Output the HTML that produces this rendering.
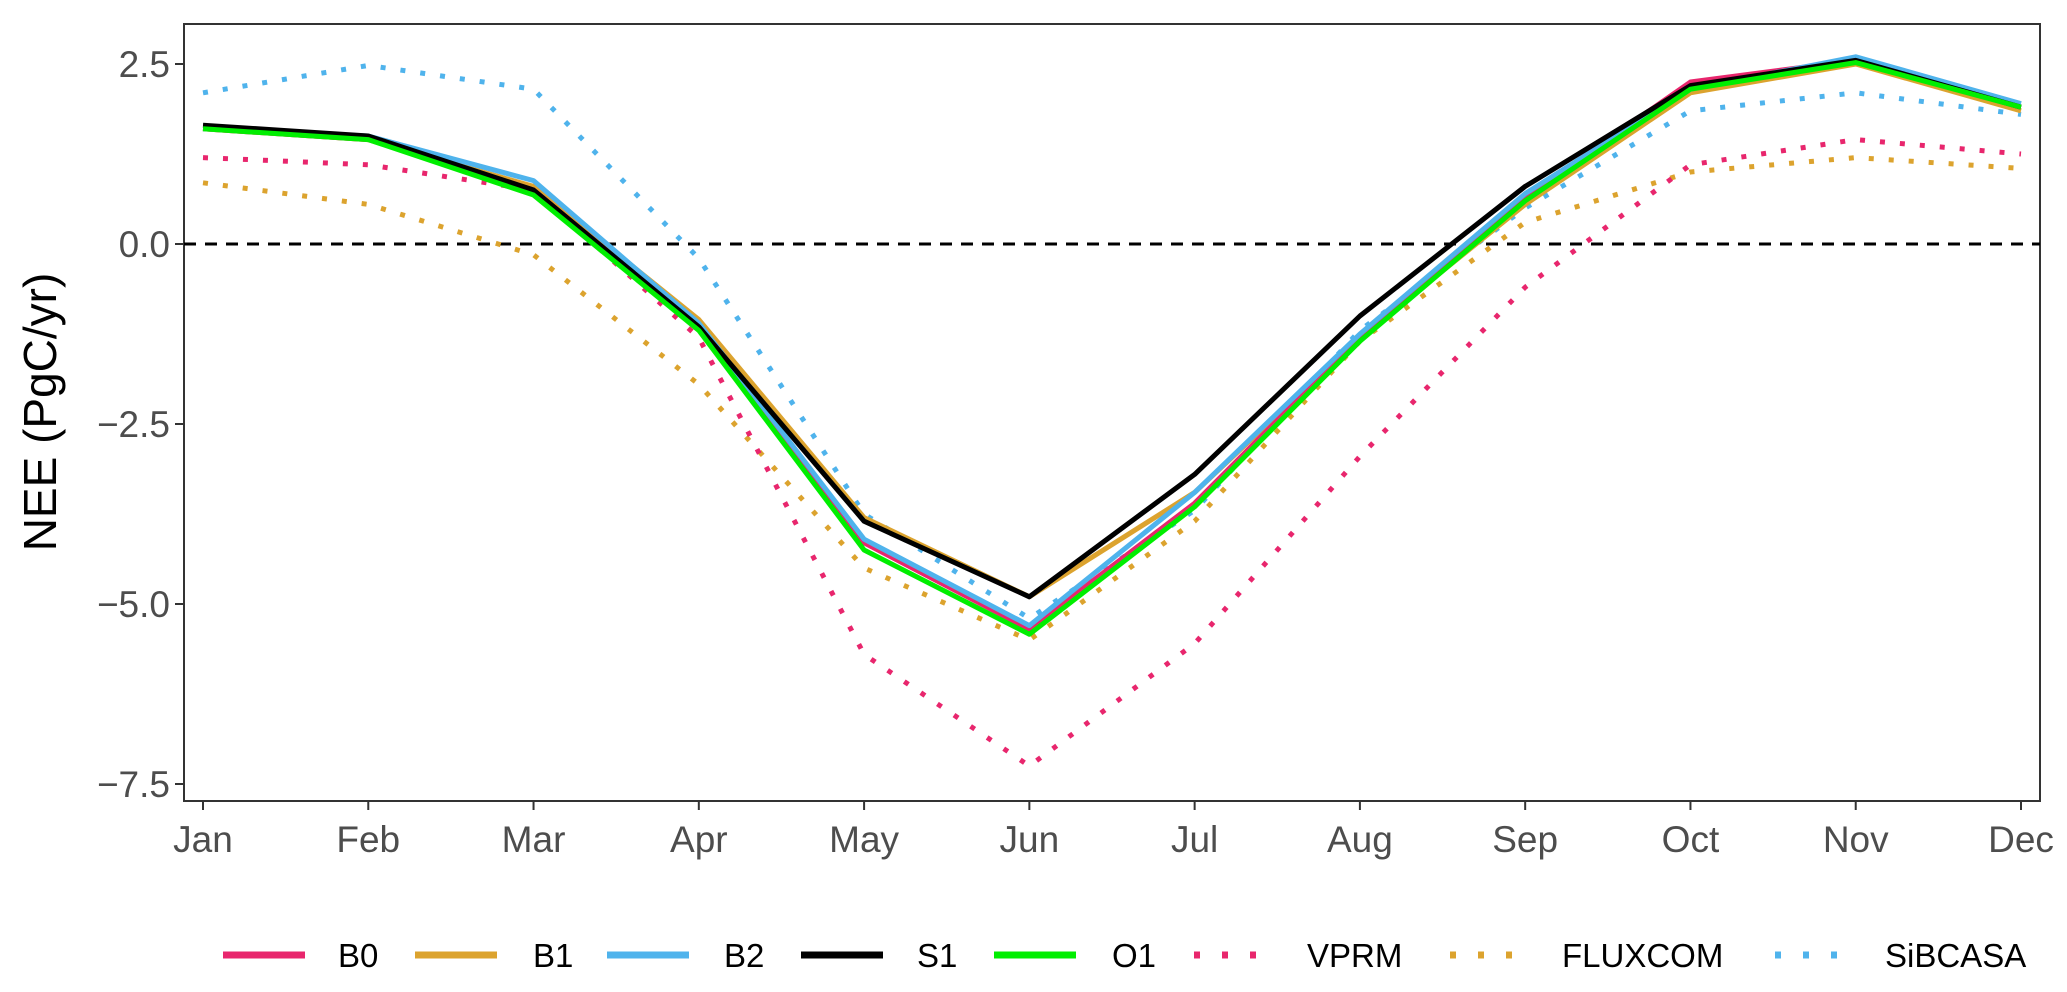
<!DOCTYPE html>
<html><head><meta charset="utf-8"><style>
body{margin:0;background:#fff;}
svg{display:block;font-family:"Liberation Sans",Arial,sans-serif;}
</style></head><body>
<svg id="chart" width="2067" height="992" viewBox="0 0 2067 992"></svg>
<script>
const months=["Jan","Feb","Mar","Apr","May","Jun","Jul","Aug","Sep","Oct","Nov","Dec"];
const yTicks=[2.5,0,-2.5,-5,-7.5];
const yTickLabels=["2.5","0.0","\u22122.5","\u22125.0","\u22127.5"];
const seriesNames=["B0","B1","B2","S1","O1","VPRM","FLUXCOM","SiBCASA"];
const B0=[1.6,1.45,0.75,-1.15,-4.15,-5.35,-3.6,-1.3,0.65,2.25,2.55,1.9];
const B1=[1.6,1.45,0.8,-1.05,-3.8,-4.9,-3.45,-1.3,0.55,2.1,2.5,1.85];
const B2=[1.6,1.5,0.88,-1.1,-4.1,-5.3,-3.45,-1.25,0.7,2.15,2.6,1.95];
const S1=[1.65,1.5,0.75,-1.15,-3.85,-4.9,-3.2,-1.0,0.8,2.2,2.55,1.9];
const O1=[1.6,1.45,0.68,-1.2,-4.25,-5.42,-3.65,-1.35,0.6,2.15,2.52,1.9];
const VPRM=[1.2,1.1,0.75,-1.3,-5.7,-7.25,-5.55,-2.95,-0.6,1.1,1.45,1.25];
const FLUXCOM=[0.85,0.55,-0.15,-1.95,-4.5,-5.5,-3.85,-1.35,0.3,1.0,1.2,1.05];
const SiBCASA=[2.1,2.48,2.15,-0.2,-3.75,-5.2,-3.7,-1.2,0.5,1.85,2.1,1.8];

const NS="http://www.w3.org/2000/svg";
const svg=document.getElementById('chart');
const L=184,R=2040,T=24,B=801;
const xS=i=>203+i*(2021-203)/11;
const yS=v=>244-v*72;
function el(t,a,p){const e=document.createElementNS(NS,t);for(const k in a)e.setAttribute(k,a[k]);(p||svg).appendChild(e);return e;}

const frame=el('rect',{x:L,y:T,width:R-L,height:B-T,fill:'none',stroke:'#333',"stroke-width":2});


const zl=el('line',{x1:L,x2:R,y1:yS(0),y2:yS(0),stroke:'#000',"stroke-width":3,"stroke-dasharray":"12 9"});



yTicks.forEach((v,i)=>{
  const tk=el('line',{x1:L-9,x2:L,y1:yS(v),y2:yS(v),stroke:'#333',"stroke-width":2});
  
  
  const t=el('text',{x:L-14,y:yS(v)+13,"text-anchor":"end","font-size":37,fill:'#4d4d4d'});
  t.textContent=yTickLabels[i];
  
  
});
months.forEach((m,i)=>{
  const tk=el('line',{x1:xS(i),x2:xS(i),y1:B,y2:B+9,stroke:'#333',"stroke-width":2});
  
  
  const t=el('text',{x:xS(i),y:852,"text-anchor":"middle","font-size":37,fill:'#4d4d4d'});
  t.textContent=m;
  
  
});
const yt=el('text',{x:0,y:0,transform:"translate(56,412) rotate(-90)","text-anchor":"middle","font-size":46,fill:'#000'});
yt.textContent="NEE (PgC/yr)";



const data=[B0,B1,B2,S1,O1,VPRM,FLUXCOM,SiBCASA];
const colors=["#e8266d","#dca32e","#4fb3ec","#000000","#00ee00","#e8266d","#dca32e","#4fb3ec"];
const dotted=[false,false,false,false,false,true,true,true];
const order=[6,5,7,1,0,2,3,4];
order.forEach(k=>{
  const d=data[k].map((v,i)=>(i?'L':'M')+xS(i)+','+yS(v)).join(' ');
  const a={d:d,fill:'none',stroke:colors[k],"stroke-width":5,"stroke-linejoin":"round"};
  if(dotted[k]){a["stroke-dasharray"]="5 15";}
  const p=el('path',a);
  
  
});

const legLineX=[223,415,607,801,994,1191,1447,1772];
const legTextX=[338,533,724,917,1112,1307,1562,1885];
const lg=el('g',{});


seriesNames.forEach((n,k)=>{
  const g=el('g',{},lg);
  
  
  const a={x1:legLineX[k],x2:legLineX[k]+82,y1:955,y2:955,stroke:colors[k],"stroke-width":7};
  if(dotted[k]){a["stroke-dasharray"]="6 22";a.x1=legLineX[k]+3;}
  el('line',a,g);
  const t=el('text',{x:legTextX[k],y:967,"font-size":33,fill:'#000'},g);
  t.textContent=n;
});
</script>
</body></html>
